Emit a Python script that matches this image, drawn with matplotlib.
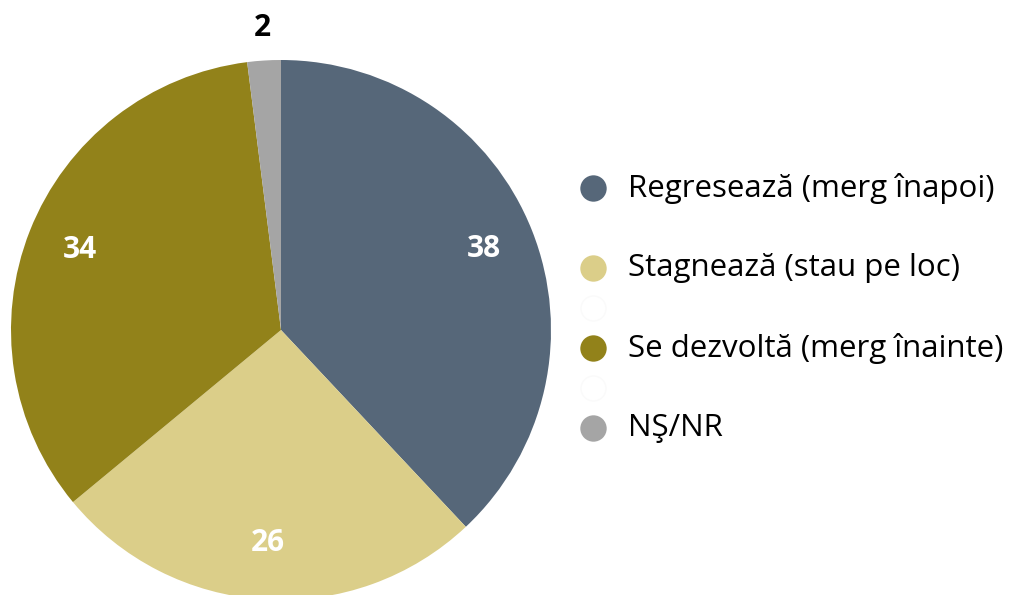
import matplotlib.pyplot as plt
import numpy as np

# data
categories = ["Regresează (merg înapoi)", "Stagnează (stau pe loc)",
              "Se dezvoltă (merg înainte)", "NŞ/NR"]
values = [38, 26, 34, 2]
colors = ["#566779", "#DBCE89", "#92821A", "#A5A5A5"]
label_colors = ["white", "white", "white", "black"]

plt.rcParams['font.family'] = ['Open Sans', 'DejaVu Sans']

fig = plt.figure(figsize=(10.26, 5.95), dpi=100)
ax = fig.add_axes([0, 0, 1, 1])

# pie in pixel coordinates (y up)
cx, cy, r = 281, 265, 270
wedges, _ = ax.pie(values, colors=colors, startangle=90, counterclock=False,
                   center=(cx, cy), radius=r, frame=True,
                   wedgeprops=dict(linewidth=0))

# value labels
dist = [0.81, 0.79, 0.80, 1.12]
for w, v, d, c in zip(wedges, values, dist, label_colors):
    mid = np.deg2rad((w.theta1 + w.theta2) / 2)
    ax.text(cx + d * r * np.cos(mid), cy + d * r * np.sin(mid), str(v),
            ha="center", va="center", fontsize=21.5, fontweight="bold", color=c)

# legend drawn by hand, with the spacer rows of the original
rows = [categories[0], None, categories[1], "", categories[2], "", categories[3]]
row_colors = [colors[0], None, colors[1], "#fafafa", colors[2], "#fafafa", colors[3]]
y0, step = 595 - 188, 40
for k, (lab, col) in enumerate(zip(rows, row_colors)):
    y = y0 - k * step
    if col is None:
        continue
    if lab:
        ax.plot(593, y, "o", markersize=19, color=col, markeredgewidth=0)
        ax.text(628, y, lab, ha="left", va="center", fontsize=22.5, color="black")
    else:
        ax.plot(593, y, "o", markersize=18, markerfacecolor="white",
                markeredgecolor=col, markeredgewidth=1)

ax.set_xlim(0, 1026)
ax.set_ylim(0, 595)
ax.set_aspect("equal")
ax.axis("off")

fig.savefig("out.png", dpi=100)
